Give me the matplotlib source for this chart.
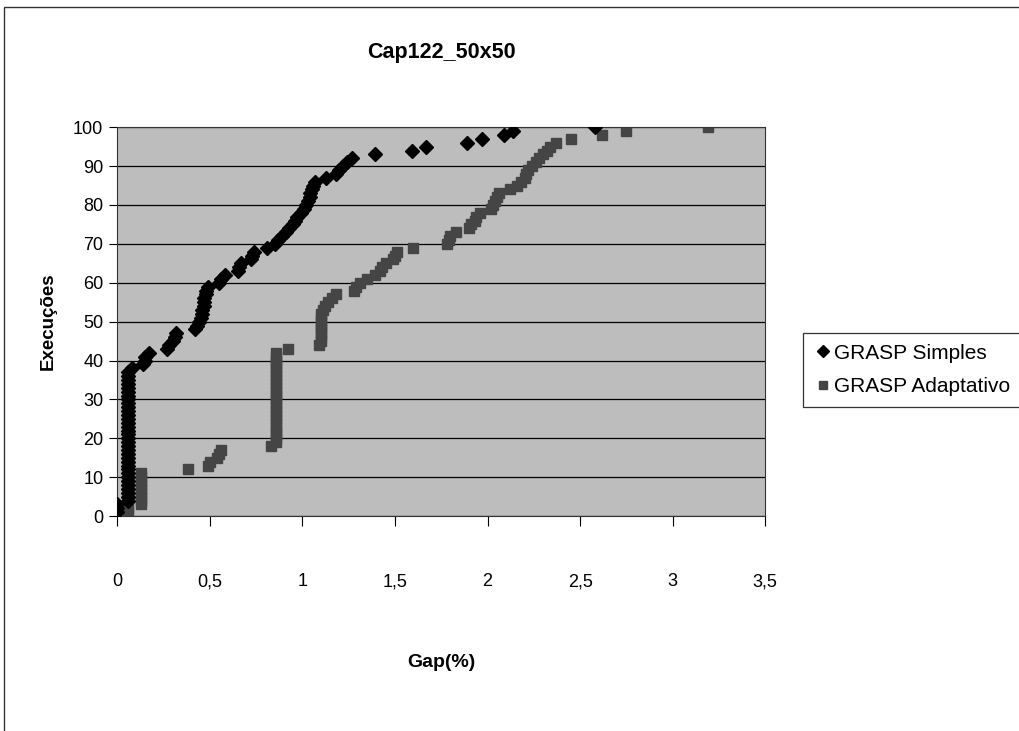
import matplotlib
matplotlib.use("Agg")
import matplotlib.pyplot as plt
from matplotlib.patches import Rectangle
from matplotlib.ticker import FuncFormatter

plt.rcParams['font.family'] = ['Liberation Sans', 'DejaVu Sans']

# GRASP Simples: gap (%) de cada execução, ordenado
simples_gap = [0.0, 0.0, 0.0] + [0.06] * 34 + [0.08,
               0.14, 0.15, 0.15, 0.17,
               0.27, 0.28, 0.30, 0.31, 0.32,
               0.42, 0.43, 0.44, 0.45, 0.46, 0.46, 0.47, 0.47, 0.47, 0.48, 0.48, 0.49,
               0.55, 0.56, 0.58,
               0.65, 0.66, 0.67,
               0.72, 0.73, 0.74,
               0.81, 0.85, 0.87, 0.89, 0.91, 0.93, 0.95, 0.96, 0.97, 0.99,
               1.01, 1.02, 1.03, 1.04, 1.04, 1.05, 1.06, 1.07,
               1.13, 1.18, 1.20, 1.22, 1.24, 1.27,
               1.39, 1.59, 1.67, 1.89, 1.97, 2.09, 2.14, 2.58]

# GRASP Adaptativo
adapt_gap = [0.06, 0.06] + [0.13] * 9 + [0.38,
             0.49, 0.50, 0.54, 0.55, 0.56,
             0.83] + [0.86] * 24 + [0.92,
             1.09] + [1.10] * 8 + [1.11, 1.12, 1.14, 1.16, 1.18,
             1.28, 1.29, 1.31, 1.35, 1.39,
             1.42, 1.43, 1.45, 1.49, 1.50, 1.51,
             1.60,
             1.78, 1.79, 1.80, 1.83,
             1.90, 1.91, 1.93, 1.94, 1.96, 2.02, 2.03, 2.04, 2.05, 2.06,
             2.12, 2.16, 2.18, 2.20, 2.21, 2.22, 2.24, 2.26, 2.28, 2.30, 2.32, 2.34, 2.37, 2.45,
             2.62, 2.75, 3.19]

execucoes = list(range(1, 101))

fig = plt.figure(figsize=(10.19, 7.31), dpi=100)
ax = fig.add_axes([0.115, 0.294, 0.636, 0.532])
ax.set_facecolor("#bdbdbd")

ax.plot(simples_gap, execucoes, linestyle="none", marker="D", ms=7.5,
        color="black", label="GRASP Simples", zorder=3)
ax.plot(adapt_gap, execucoes, linestyle="none", marker="s", ms=6.5,
        color="#454545", label="GRASP Adaptativo", zorder=2)

ax.set_xlim(0, 3.5)
ax.set_ylim(0, 100)
ax.set_xticks([0, 0.5, 1, 1.5, 2, 2.5, 3, 3.5])
ax.set_yticks(range(0, 101, 10))
ax.xaxis.set_major_formatter(FuncFormatter(lambda v, p: ("%g" % v).replace(".", ",")))
ax.yaxis.grid(True, color="black", linewidth=0.9)
ax.set_axisbelow(True)
ax.tick_params(axis="x", direction="out", length=7, pad=34, labelsize=13)
ax.tick_params(axis="y", direction="out", length=6, pad=4, labelsize=13)
for s in ax.spines.values():
    s.set_color("#333333")

ax.set_title("Cap122_50x50", fontsize=15.5, fontweight="bold", pad=50)
ax.set_xlabel("Gap(%)", fontsize=14, fontweight="bold", labelpad=46)
ax.set_ylabel("Execuções", fontsize=13.5, fontweight="bold", labelpad=12)

leg = fig.legend(loc="center left", bbox_to_anchor=(0.788, 0.494), fontsize=15,
                 frameon=True, fancybox=False, edgecolor="black",
                 handletextpad=0.1, handlelength=0.9, borderpad=0.5, labelspacing=0.7,
                 borderaxespad=0)
leg.get_frame().set_linewidth(0.9)
for h in leg.legend_handles:
    h.set_markersize(6)

fig.patches.append(Rectangle((4 / 1019, -0.01), 1.1, 1 - 7 / 731 + 0.01,
                             transform=fig.transFigure, fill=False,
                             edgecolor="#333333", linewidth=1.0))

fig.savefig("out.png", dpi=100)
